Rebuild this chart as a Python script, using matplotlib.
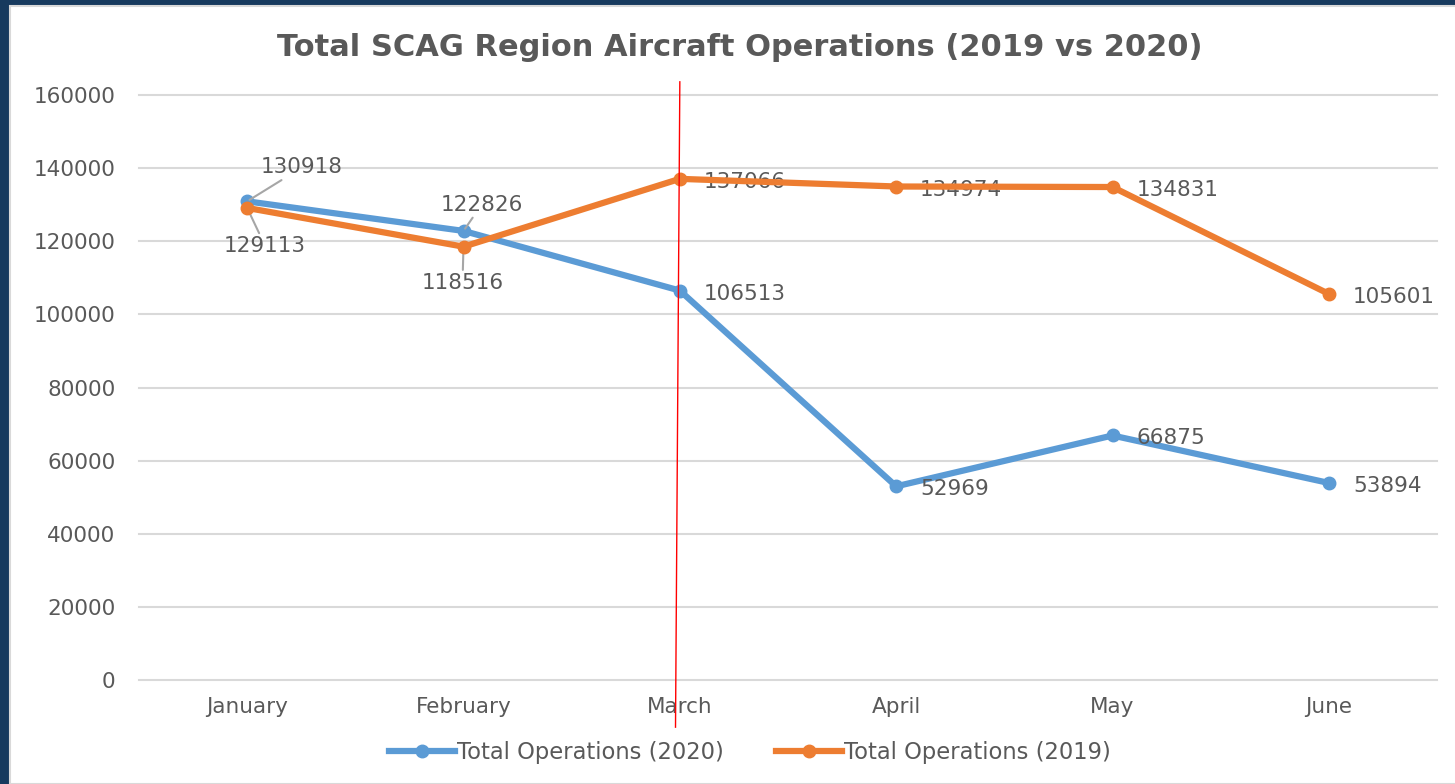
import matplotlib.pyplot as plt
from matplotlib.patches import Rectangle
from matplotlib.lines import Line2D

months = ['January', 'February', 'March', 'April', 'May', 'June']
ops_2020 = [130918, 122826, 106513, 52969, 66875, 53894]
ops_2019 = [129113, 118516, 137066, 134974, 134831, 105601]
y_ticks = [0, 20000, 40000, 60000, 80000, 100000, 120000, 140000, 160000]

blue = '#5b9bd5'
orange = '#ed7d31'
txt = '#595959'
font = 'DejaVu Sans'
fs = 15.5

fig = plt.figure(figsize=(14.55, 7.84), dpi=100, facecolor='#173a5e')
# white chart area inside the navy frame
fig.patches.append(Rectangle((10 / 1455, 0), 1, 1 - 6 / 784, transform=fig.transFigure,
                             facecolor='white', edgecolor='#d9d9d9', linewidth=1.5, zorder=-10))

ax = fig.add_axes([139 / 1455, 1 - 680 / 784, (1437 - 139) / 1455, (680 - 95) / 784])
ax.set_facecolor('white')
x = list(range(len(months)))

ax.plot(x, ops_2020, color=blue, lw=4.5, marker='o', ms=9, label='Total Operations (2020)', zorder=3)
ax.plot(x, ops_2019, color=orange, lw=4.5, marker='o', ms=9, label='Total Operations (2019)', zorder=4)

ax.set_xlim(-0.5, len(months) - 0.5)
ax.set_ylim(0, 160000)
ax.set_yticks(y_ticks)
ax.set_yticklabels([str(v) for v in y_ticks])
ax.set_xticks(x)
ax.set_xticklabels(months)
ax.tick_params(length=0, colors=txt, labelsize=fs, pad=12)
ax.tick_params(axis='y', pad=17)
for lab in ax.get_xticklabels() + ax.get_yticklabels():
    lab.set_fontfamily(font)
ax.grid(axis='y', color='#d9d9d9', lw=1.5)
for gl in ax.get_ygridlines():
    gl.set_clip_on(False)
ax.set_axisbelow(True)
for s in ax.spines.values():
    s.set_visible(False)

# data labels to the right of points (March onwards)
lab_kw = dict(textcoords='offset pixels', fontsize=fs, color=txt, family=font, va='center', ha='left')
for i in range(2, len(months)):
    ax.annotate(str(ops_2020[i]), (i, ops_2020[i]), xytext=(24, -3), **lab_kw)
    ax.annotate(str(ops_2019[i]), (i, ops_2019[i]), xytext=(24, -3), **lab_kw)

# January / February labels with leader lines
lead = dict(arrowstyle='-', color='#a6a6a6', lw=1.5, shrinkA=0, shrinkB=2)
ctr_kw = dict(textcoords='offset pixels', fontsize=fs, color=txt, family=font, va='center', ha='center')
ax.annotate(str(ops_2020[0]), (0, ops_2020[0]), xytext=(55, 34), arrowprops=lead, **ctr_kw)
ax.annotate(str(ops_2019[0]), (0, ops_2019[0]), xytext=(18, -38), arrowprops=lead, **ctr_kw)
ax.annotate(str(ops_2020[1]), (1, ops_2020[1]), xytext=(18, 26), arrowprops=lead, **ctr_kw)
ax.annotate(str(ops_2019[1]), (1, ops_2019[1]), xytext=(-1, -36), arrowprops=lead, **ctr_kw)

# red marker line at March
ax.add_line(Line2D([2.0, 1.98], [163600, -12900], color='red', lw=1, clip_on=False, zorder=5))

fig.text(740 / 1455, 1 - 47 / 784, 'Total SCAG Region Aircraft Operations (2019 vs 2020)',
         ha='center', va='center', fontsize=22, fontweight='bold', color=txt, family=font)

leg = fig.legend(loc='center', bbox_to_anchor=(750 / 1455, 1 - 752 / 784), ncol=2, frameon=False,
                 handlelength=2.9, handletextpad=0.1, columnspacing=2.3,
                 prop={'family': font, 'size': 16.3})
for t in leg.get_texts():
    t.set_color(txt)

fig.savefig('out.png', dpi=100, facecolor=fig.get_facecolor())
